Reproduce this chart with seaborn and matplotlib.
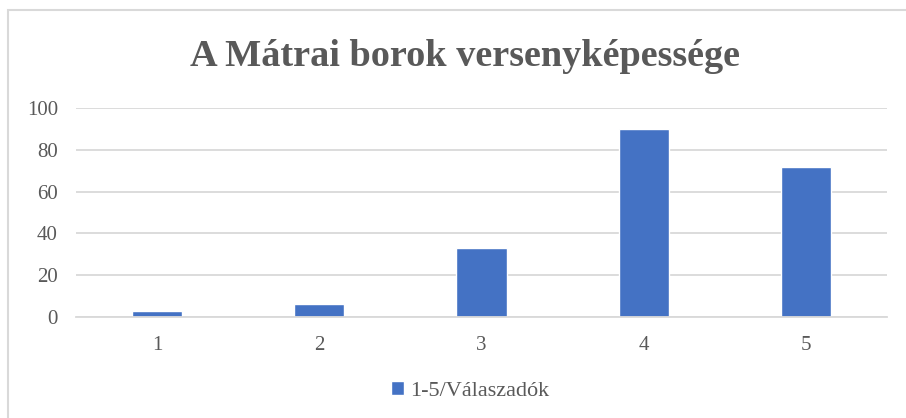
import matplotlib.pyplot as plt
import seaborn as sns
import pandas as pd
from matplotlib.patches import Rectangle

categories = ["1", "2", "3", "4", "5"]
values = [3, 6, 33, 90, 72]
series_name = "1-5/Válaszadók"
title = "A Mátrai borok versenyképessége"

df = pd.DataFrame({"score": categories, "count": values, "series": series_name})

sns.set_theme(style="white")
plt.rcParams["font.family"] = ["Liberation Serif", "DejaVu Serif"]

text_color = "#595959"
grid_color = "#d9d9d9"

fig = plt.figure(figsize=(9.06, 4.18), dpi=100)
ax = fig.add_axes([76 / 906, 1 - 317 / 418, (887 - 76) / 906, (317 - 108) / 418])

sns.barplot(data=df, x="score", y="count", hue="series", palette=["#4472C4"],
            width=0.31, ax=ax, saturation=1)

ax.set_ylim(0, 100)
ax.set_yticks([0, 20, 40, 60, 80, 100])
ax.yaxis.grid(True, color=grid_color, linewidth=1.3)
ax.set_axisbelow(True)
for s in ["top", "right", "left"]:
    ax.spines[s].set_visible(False)
ax.spines["bottom"].set_color(grid_color)
ax.spines["bottom"].set_linewidth(1.3)
ax.set_xlabel("")
ax.set_ylabel("")
ax.tick_params(axis="both", length=0, labelsize=15, colors=text_color)
ax.tick_params(axis="y", pad=13)
ax.tick_params(axis="x", pad=14)

ax.legend(loc="center", bbox_to_anchor=(470 / 906, 1 - 391 / 418), bbox_transform=fig.transFigure,
          frameon=False, fontsize=16, labelcolor=text_color,
          handlelength=0.6, handleheight=0.6, handletextpad=0.25)

fig.text(465 / 906, 1 - 56 / 418, title, ha="center", va="center", fontsize=27.5,
         fontweight="bold", color=text_color)

# chart area border
fig.patches.append(Rectangle((8 / 906, -0.1), 1.2, 1 - 10 / 418 + 0.1,
                             transform=fig.transFigure, fill=False,
                             edgecolor=grid_color, linewidth=1.5))

fig.savefig("out.png", dpi=100)
